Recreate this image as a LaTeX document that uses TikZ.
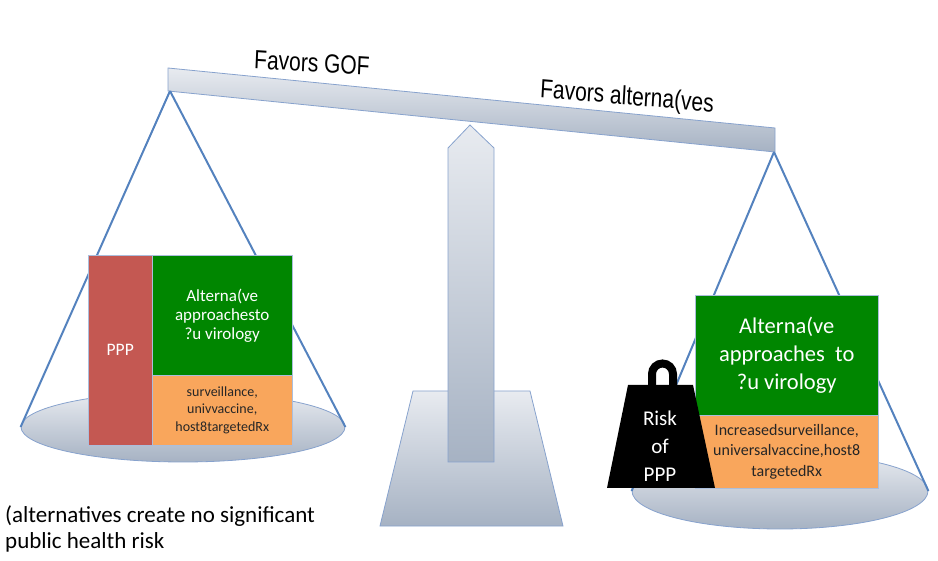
\documentclass[tikz,border=0pt]{standalone}
\usepackage{fontspec}
\setmainfont{Carlito}
\newfontfamily\arialfont{Liberation Sans}
\usetikzlibrary{positioning,shapes.geometric}

\definecolor{pppred}{RGB}{196,88,82}
\definecolor{altgreen}{RGB}{0,134,0}
\definecolor{survorange}{RGB}{249,166,92}
\definecolor{cordblue}{RGB}{84,130,190}
\definecolor{steeltop}{RGB}{232,235,240}
\definecolor{steelbot}{RGB}{166,178,195}
\definecolor{rim}{RGB}{135,162,205}

\tikzset{
  metal/.style={top color=steeltop, bottom color=steelbot, draw=rim, line width=0.8pt},
  cord/.style={draw=cordblue, line width=2pt},
  box/.style={draw=rim!70, line width=0.5pt, inner sep=0pt, align=center, anchor=north west},
  tag/.style={font=\arialfont\fontsize{21}{24}\selectfont, yscale=1.25},
  small/.style={font=\fontsize{17}{19}\selectfont},
  big/.style={font=\fontsize{22.5}{28}\selectfont},
}

\begin{document}
\begin{tikzpicture}[x=1pt,y=-1pt]
    \useasboundingbox (0,0) rectangle (938,561);

    % Define stand
    \path[metal] (413,391) -- (530,391) -- (563,526) -- (380,526) -- cycle;
    \path[metal] (448,148) -- (470,125) -- (494,148) -- (494,462) -- (448,462) -- cycle;

    % Define beam
    \path[metal] (168,68) -- (775,128) -- (775,152) -- (168,91) -- cycle;
    \coordinate (hangL) at (170,91);
    \coordinate (hangR) at (774,152);
    \node[tag, rotate=-3] (gof) at (312,63) {Favors GOF};
    \node[tag, rotate=-4] (favalt) at (627,98) {Favors alterna(ves};

    % Define pans
    \node[ellipse, metal, minimum width=324pt, minimum height=70pt] (panL) at (183,427) {};
    \node[ellipse, metal, minimum width=296pt, minimum height=76pt] (panR) at (780,491) {};

    % Draw cords
    \draw[cord] (hangL) -- (panL.west);
    \draw[cord] (hangL) -- (panL.east);
    \draw[cord] (hangR) -- (panR.west);
    \draw[cord] (hangR) -- (panR.east);

    % Left pan load
    \node[box, fill=pppred, text=white, font=\fontsize{17.5}{19}\selectfont,
          minimum width=64pt, minimum height=190pt] (pppL) at (88,255) {PPP};
    \node[box, fill=altgreen, text=white, small,
          minimum width=140pt, minimum height=120pt] (altL) at (152,255)
          {Alterna(ve\\approachesto\\?u virology};
    \node[box, fill=survorange, text=black!85, font=\fontsize{14}{17.5}\selectfont,
          minimum width=140pt, minimum height=70pt] (survL) at (152,375)
          {surveillance,\\univvaccine,\\host8targetedRx};

    % Right pan load
    \node[box, fill=altgreen, text=white, big,
          minimum width=183pt, minimum height=120pt] (altR) at (695,295)
          {Alterna(ve\\approaches~ to\\?u virology};
    \node[box, fill=survorange, text=black!85, font=\fontsize{16}{20.5}\selectfont,
          minimum width=183pt, minimum height=73pt] (survR) at (695,415)
          {Increasedsurveillance,\\universalvaccine,host8\\targetedRx};

    % Weight
    \draw[line width=8pt] (652,388) -- (652,374) arc[start angle=180, end angle=360, radius=10.5] -- (673,388);
    \fill[black] (628,385) -- (693,385) -- (715,488) -- (607,488) -- cycle;
    \node[text=white, align=center, font=\fontsize{21}{28}\selectfont] (risk) at (660,446) {Risk\\of\\PPP};

    % Note
    \node[anchor=north west, align=left, inner sep=0pt, font=\fontsize{23}{26}\selectfont] (note) at (5,505)
        {(alternatives create no significant\\public health risk};
\end{tikzpicture}
\end{document}
